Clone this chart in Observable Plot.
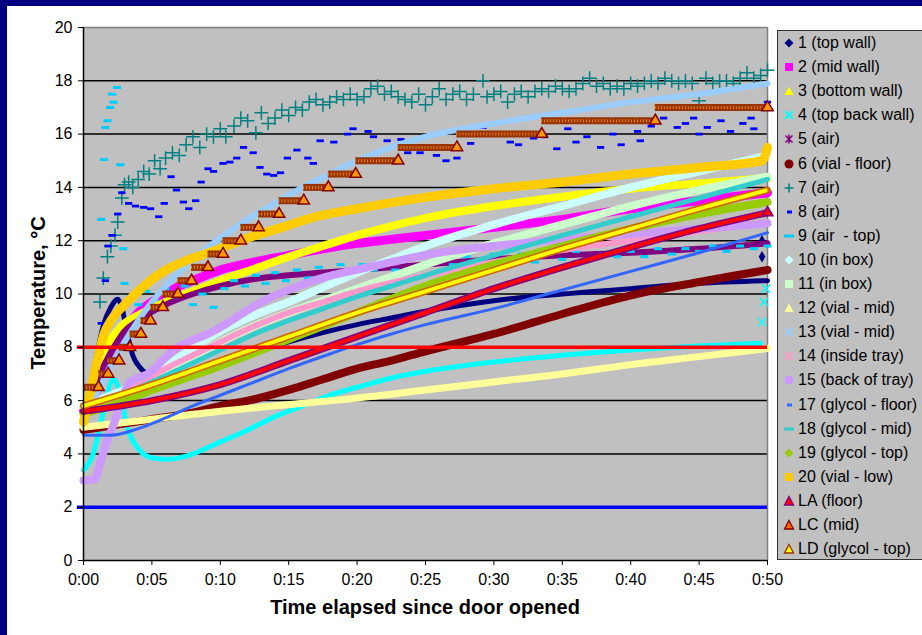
<!DOCTYPE html>
<html><head><meta charset="utf-8">
<script src="https://cdn.jsdelivr.net/npm/d3@7"></script>
<script src="https://cdn.jsdelivr.net/npm/@observablehq/plot@0.6"></script>
<style>
html,body{margin:0;padding:0;background:#fff;}
#wrap{position:relative;width:922px;height:635px;overflow:hidden;background:#fff;font-family:"Liberation Sans",Arial,sans-serif;}
.navy-top{position:absolute;left:0;top:0;width:922px;height:6px;background:#000080;}
.navy-left{position:absolute;left:0;top:0;width:7px;height:635px;background:#000080;}
#chart{position:absolute;left:0;top:0;}
#ytitle{position:absolute;left:38px;top:293px;transform:translate(-50%,-50%) rotate(-90deg);font-weight:bold;font-size:20px;white-space:nowrap;}
#xtitle{position:absolute;left:425px;top:607px;transform:translate(-50%,-50%);font-weight:bold;font-size:20px;white-space:nowrap;}
#legend{position:absolute;left:777px;top:30px;width:160px;height:530px;background:#C0C0C0;border:1px solid #333;box-sizing:border-box;}
.item{position:absolute;left:0;height:24px;display:flex;align-items:center;font-size:16px;white-space:pre;color:#000;}
.item svg{margin-left:4px;margin-right:2px;}
</style></head>
<body>
<div id="wrap">
  <div class="navy-top"></div>
  <div class="navy-left"></div>
  <div id="chart"></div>
  <div id="ytitle">Temperature, °C</div>
  <div id="xtitle">Time elapsed since door opened</div>
  <div id="legend"></div>
</div>
<script>
// ---- data: [minutes, °C] ----
const xTicks = [0,5,10,15,20,25,30,35,40,45,50];
const yTicks = [0,2,4,6,8,10,12,14,16,18,20];
const refLow = 2, refHigh = 8;

const s1 = [[0,5.7],[0.5,6.6],[1,7.8],[1.5,8.9],[2,9.5],[2.5,9.8],[2.8,9.5],[3.2,8.5],[3.6,7.7],[4.2,7.2],[5,6.9],[5.8,6.8],[7,6.9],[10,7.4],[12.5,7.8],[15,8.2],[17.5,8.55],[20,8.85],[22.5,9.1],[25,9.35],[30,9.75],[35,10.0],[40,10.2],[45,10.4],[50,10.5]];
const s1End = [[49.6,12.0],[49.6,11.4]];
const s2 = [[0,5.6],[0.5,6.0],[1,6.4],[1.5,7.2],[2,7.8],[2.5,8.3],[3,8.7],[4,9.3],[5,9.7],[6,10.0],[7,10.3],[8,10.5],[10,10.9],[12.5,11.2],[15,11.45],[17.5,11.7],[20,11.9],[22.5,12.05],[25,12.2],[30,12.5],[35,12.8],[40,13.2],[45,13.5],[50,13.8]];
const s3 = [[0,5.5],[0.5,6.4],[1,7.3],[1.5,7.9],[2,8.3],[3,8.9],[4,9.2],[6,9.7],[8,10.1],[10,10.5],[12.5,10.95],[15,11.4],[17.5,11.8],[20,12.2],[22.5,12.55],[25,12.85],[30,13.3],[35,13.65],[40,13.95],[45,14.15],[50,14.35]];
const s4 = [[0,3.4],[0.7,4.0],[1.2,5.0],[1.7,6.2],[2.2,6.8],[2.7,6.2],[3.2,5.0],[4,4.2],[5,3.85],[6,3.8],[7,3.85],[8,4.0],[10,4.45],[12,4.9],[14,5.4],[16,5.8],[18,6.2],[20,6.5],[22.5,6.85],[25,7.1],[30,7.45],[35,7.7],[40,7.9],[45,8.05],[49.5,8.15]];
const s4End = [[49.6,8.95],[49.75,9.7],[49.9,10.2]];
const s5 = [[0,5.5],[1,6.8],[2,7.8],[3,8.6],[4,9.0],[6,9.6],[8,10.0],[10,10.3],[13,10.6],[15,10.7],[20,10.9],[25,11.1],[30,11.3],[35,11.45],[40,11.55],[45,11.7],[50,11.9]];
const s6 = [[0,4.9],[2.5,5.1],[5,5.3],[7.5,5.5],[10,5.8],[12.5,6.05],[15,6.4],[17.5,6.8],[20,7.2],[22.5,7.5],[25,7.85],[30,8.5],[35,9.25],[40,9.95],[45,10.45],[50,10.9]];
const s7 = [[1.2,9.7],[1.45,10.6],[1.75,11.4],[2.0,11.8],[2.3,12.2],[2.5,12.7],[2.8,13.6],[3.0,14.1],[3.3,14.2],[3.6,14.0],[4.0,14.3],[4.4,14.6],[4.8,14.5],[5.2,15.0],[5.6,14.7],[6.0,15.1],[6.5,15.3],[7.0,15.2],[7.5,15.6],[8.0,15.9],[8.5,15.5],[9.0,16.0],[9.5,15.9],[10.0,16.2],[10.4,15.9],[11.0,16.3],[11.5,16.6],[12.0,16.5],[12.6,16.05],[13.0,16.8],[13.5,16.4],[14.0,16.6],[14.5,16.9],[15.0,16.7],[15.5,17.0],[16.0,16.9],[16.5,17.2],[17.0,17.3],[17.5,17.1],[18.0,17.2],[18.5,17.4],[19.0,17.3],[19.5,17.5],[20.0,17.3],[20.5,17.4],[21.0,17.7],[21.5,17.8],[22.0,17.5],[22.5,17.6],[23.0,17.4],[23.5,17.3],[24.0,17.2],[24.5,17.5],[25.0,17.1],[25.5,17.4],[26.0,17.7],[26.5,17.3],[27.0,17.5],[27.5,17.6],[28.0,17.3],[28.5,17.5],[29.2,18.0],[29.5,17.4],[30.0,17.5],[30.5,17.6],[31.0,17.2],[31.5,17.5],[32.0,17.6],[32.5,17.4],[33.0,17.6],[33.5,17.7],[34.0,17.6],[34.5,17.8],[35.0,17.7],[35.5,17.6],[36.0,17.7],[36.5,17.9],[37.0,18.1],[37.5,17.8],[38.0,17.9],[38.5,17.7],[39.0,17.8],[39.5,17.7],[40.0,17.9],[40.5,17.8],[41.0,17.9],[41.5,18.0],[42.0,17.9],[42.5,18.1],[43.0,18.0],[43.5,17.9],[44.0,18.0],[44.5,17.9],[45.0,17.25],[45.5,18.1],[46.0,17.9],[46.5,18.0],[47.0,18.0],[47.5,17.9],[48.0,18.1],[48.5,18.3],[49.0,18.1],[49.5,18.2],[50.0,18.4]];
const s8 = [[1.3,8.9],[1.6,10.5],[1.8,11.8],[2.1,12.2],[2.5,13.0],[2.8,13.8],[3.3,13.4],[3.8,13.3],[4.4,13.25],[4.9,13.2],[5.5,12.9],[5.9,13.4],[6.4,14.4],[6.8,13.9],[7.3,13.45],[7.7,13.2],[8.2,13.5],[8.6,14.2],[9.1,14.7],[9.5,14.6],[10.2,14.9],[10.7,14.95],[11.2,15.1],[11.7,15.5],[12.4,15.3],[12.9,14.75],[13.4,14.5],[13.9,14.45],[14.4,14.55],[14.9,15.1],[15.6,15.4],[16.4,15.1],[16.8,14.9],[17.3,15.75],[18.3,15.7],[19.3,16.0],[19.7,16.2],[20.8,16.1],[21.2,15.9],[22.2,15.75],[23.2,15.8],[23.7,15.3],[24.6,15.3],[25.8,15.2],[26.5,15.0],[27.3,15.1],[28.3,15.65],[29.2,16.25],[30.0,16.0],[31.2,15.7],[31.8,15.6],[32.9,15.85],[33.7,15.9],[34.6,15.45],[35.4,16.2],[36.0,15.7],[36.8,15.9],[37.8,15.5],[38.7,16.0],[39.3,15.6],[40.5,16.1],[40.7,15.75],[41.5,16.3],[42.4,16.6],[43.4,16.25],[44.0,16.4],[44.6,16.6],[45.0,16.0],[45.6,16.25],[46.6,16.5],[47.3,16.1],[48.2,16.4],[48.8,16.6],[49.0,16.2],[50.0,17.2]];
const s9 = [[0,5.8],[0.5,6.3],[1.0,7.6],[1.3,12.8],[1.5,15.05],[1.6,16.25],[1.75,16.5],[1.95,17.0],[2.1,17.5],[2.2,17.2],[2.45,17.75],[2.7,14.85],[2.9,11.7],[3.0,10.4],[3.4,9.9],[4.0,9.6],[4.6,10.1],[5.2,9.8],[6.0,10.2],[6.7,9.9],[7.4,10.3],[8.0,9.6],[8.7,10.0],[9.5,9.5],[10.3,10.2],[11.0,10.5],[11.8,10.3],[12.6,10.7],[13.3,10.4],[14.0,10.8],[14.8,10.5],[15.6,10.9],[16.4,10.6],[17.2,11.0],[18.0,10.7],[18.8,11.1],[19.6,10.8],[20.4,11.1],[21.2,10.9],[22.0,11.2],[22.8,10.9],[23.6,11.3],[24.4,11.0],[25.2,11.2],[26.0,11.4],[27.0,11.1],[28.0,11.4],[29.0,11.2],[30.0,11.5],[31.0,11.3],[32.0,11.5],[33.0,11.2],[34.0,11.5],[35.0,11.3],[36.0,11.6],[37.0,11.3],[38.0,11.5],[39.0,11.4],[40.0,11.6],[41.0,11.4],[42.0,11.7],[43.0,11.5],[44.0,11.7],[45.0,11.6],[46.0,11.8],[47.0,11.6],[48.0,11.8],[49.0,11.7],[50.0,11.8]];
const s10 = [[0,5.8],[2,6.2],[5,6.9],[7.5,7.8],[10,8.6],[12.5,9.2],[15,9.7],[17.5,10.25],[20,10.8],[22.5,11.3],[25,11.8],[30,12.6],[35,13.3],[40,14.0],[45,14.6],[50,15.2]];
const s11 = [[0,5.8],[2,6.0],[5,6.7],[7.5,7.5],[10,8.2],[12.5,8.8],[15,9.3],[17.5,9.75],[20,10.2],[22.5,10.65],[25,11.1],[30,11.9],[35,12.6],[40,13.3],[45,13.9],[50,14.4]];
const s12 = [[0,5.0],[5,5.3],[10,5.6],[15,5.85],[20,6.1],[25,6.4],[30,6.7],[35,7.0],[40,7.35],[45,7.65],[50,7.95]];
const s13 = [[0,5.3],[1,6.3],[2,7.3],[3,8.2],[4,9.0],[5,9.7],[6,10.3],[7,10.8],[8,11.3],[10,12.1],[12,12.8],[14,13.4],[16,14.0],[18,14.5],[20,15.0],[22.5,15.5],[25,15.9],[30,16.4],[35,16.8],[40,17.2],[45,17.5],[50,17.9]];
const s14 = [[0,5.6],[2,6.0],[4,6.6],[6,7.2],[8,7.7],[10,8.2],[12.5,8.8],[15,9.3],[17.5,9.7],[20,10.1],[25,10.7],[30,11.2],[35,11.65],[40,12.0],[45,12.35],[50,12.7]];
const s15 = [[0,3.0],[0.8,3.05],[1.3,3.8],[1.8,4.6],[2.2,5.1],[2.8,6.0],[3.4,6.7],[4.7,7.0],[6.6,7.9],[9.5,8.6],[13.2,9.75],[16.8,10.5],[21.7,11.1],[25.4,11.5],[30,11.8],[35,12.05],[40,12.25],[45,12.45],[50,12.65]];
const s17 = [[0,4.7],[2,4.7],[4,4.95],[6,5.35],[8,5.8],[10,6.2],[12,6.6],[15,7.2],[18,7.75],[20,8.1],[22.5,8.5],[25,8.85],[30,9.45],[35,10.15],[40,10.85],[45,11.55],[50,12.3]];
const s18 = [[0,5.8],[2,6.1],[5,6.7],[7.5,7.3],[10,7.9],[12.5,8.5],[15,9.0],[17.5,9.45],[20,9.9],[22.5,10.3],[25,10.7],[30,11.45],[35,12.2],[40,12.9],[45,13.6],[50,14.3]];
const s19 = [[0,5.5],[2.5,5.9],[5,6.4],[7.5,6.85],[10,7.3],[15,8.3],[20,9.3],[25,10.3],[30,11.1],[35,11.8],[40,12.45],[45,13.0],[50,13.45]];
const s20 = [[0,5.2],[0.5,6.3],[1,7.5],[1.5,8.5],[2,9.0],[3,9.6],[4,10.1],[5,10.55],[6,10.9],[7.5,11.25],[10,11.7],[12,12.1],[14.5,12.5],[17,12.9],[20,13.2],[24,13.55],[27.5,13.8],[30,13.95],[35,14.2],[40,14.5],[45,14.75],[49.6,15.0],[50,15.5]];
const sLA = [[0,5.6],[5,6.0],[10,6.6],[15,7.5],[20,8.4],[25,9.3],[30,10.2],[35,11.0],[40,11.75],[45,12.45],[50,13.05]];
const sLD = [[0,5.8],[5,6.6],[10,7.5],[15,8.4],[20,9.3],[25,10.1],[30,10.9],[35,11.7],[40,12.45],[45,13.2],[50,13.9]];
// LC: [start, end, value] plateaus
const sLC = [[0,1.1,6.5],[1.1,1.8,7.0],[1.8,2.6,7.5],[2.6,3.4,8.0],[3.4,4.2,8.5],[4.2,4.9,9.0],[4.9,5.8,9.5],[5.8,6.9,10.0],[6.9,7.9,10.5],[7.9,9.1,11.0],[9.1,10.2,11.5],[10.2,11.5,12.0],[11.5,12.8,12.5],[12.8,14.3,13.0],[14.3,16.1,13.5],[16.1,17.9,14.0],[17.9,19.9,14.5],[19.9,23.0,15.0],[23.0,27.3,15.5],[27.3,33.5,16.0],[33.5,41.8,16.5],[41.8,50,17.0]];

const legendLabels = ["1 (top wall)","2 (mid wall)","3 (bottom wall)","4 (top back wall)","5 (air)","6 (vial - floor)","7 (air)","8 (air)","9 (air  - top)","10 (in box)","11 (in box)","12 (vial - mid)","13 (vial - mid)","14 (inside tray)","15 (back of tray)","17 (glycol - floor)","18 (glycol - mid)","19 (glycol - top)","20 (vial - low)","LA (floor)","LC (mid)","LD (glycol - top)"];
const legendMarkers = ["diamond","square","triangle","x","star","circle","plus","dash","longdash","diamond","square","triangle","x","x","circle","dash","longdash","diamond","square","triangle","triangle","triangle"];
const legendFills = ["#000080","#FF00FF","#FFFF00","#00FFFF","#800080","#800000","#008080","#0000FF","#00CCFF","#CCFFFF","#CCFFCC","#FFFF99","#99CCFF","#FF99CC","#CC99FF","#3366FF","#33CCCC","#99CC00","#FFCC00","#FF0000","#FF6600","#FFFF00"];
const legendEdges = [null,null,null,null,null,null,null,null,null,null,null,null,null,null,null,null,null,null,null,"#800080","#800000","#993300"];

// ---- chart ----
const X = d => d[0], Y = d => d[1];
const band = (data, color, w) => Plot.line(data, {x: X, y: Y, stroke: color, strokeWidth: w, curve: "monotone-x", strokeLinecap: "round", strokeLinejoin: "round"});
const dashSym = {draw(ctx, size){ const r = Math.sqrt(size/Math.PI); ctx.moveTo(-r*1.3,-r*0.5); ctx.lineTo(r*1.3,-r*0.5); ctx.lineTo(r*1.3,r*0.5); ctx.lineTo(-r*1.3,r*0.5); ctx.closePath(); }};

const chart = Plot.plot({
  width: 780, height: 635,
  marginLeft: 83, marginRight: 13, marginTop: 27, marginBottom: 75,
  style: {background: "transparent", fontFamily: "'Liberation Sans', Arial, sans-serif", fontSize: "16px", color: "#000", overflow: "visible"},
  x: {domain: [0, 50]},
  y: {domain: [0, 20]},
  marks: [
    Plot.frame({fill: "#C0C0C0", stroke: "none"}),
    Plot.ruleY(yTicks.filter(v => v > 0 && v < 20), {stroke: "#000", strokeWidth: 1.5}),
    Plot.ruleY([20], {stroke: "#808080", strokeWidth: 1.5}),
    Plot.ruleX([50], {stroke: "#808080", strokeWidth: 1.5}),
    band(s1, "#000080", 5),
    Plot.dot(s1End, {x: X, y: Y, symbol: "diamond", fill: "#000080", r: 3.5}),
    band(s2, "#FF00FF", 9),
    band(s3, "#FFFF00", 8),
    band(s4, "#00FFFF", 5),
    Plot.dot(s4End, {x: X, y: Y, symbol: "times", stroke: "#00FFFF", fill: "none", strokeWidth: 1.5, r: 4}),
    band(s5, "#800080", 6),
    band(s6, "#800000", 8),
    Plot.dot(s7, {x: X, y: Y, symbol: "plus", stroke: "#008080", fill: "none", strokeWidth: 1.5, r: 4.5}),
    Plot.dot(s8, {x: X, y: Y, symbol: dashSym, fill: "#0000FF", stroke: "none", r: 2.8}),
    Plot.dot(s9, {x: X, y: Y, symbol: dashSym, fill: "#00CCFF", stroke: "none", r: 3.1}),
    band(s10, "#CCFFFF", 8),
    band(s11, "#CCFFCC", 8),
    band(s12, "#FFFF99", 7),
    band(s13, "#99CCFF", 6),
    band(s14, "#FF99CC", 6),
    band(s15, "#CC99FF", 8),
    band(s17, "#3366FF", 3),
    band(s18, "#33CCCC", 5),
    band(s19, "#99CC00", 8),
    band(s20, "#FFCC00", 9),
    band(sLA, "#800080", 7),
    Plot.line(sLA, {x: X, y: Y, stroke: "#FF0000", strokeWidth: 4, curve: "monotone-x", strokeDasharray: "1.2,1.8"}),
    Plot.dot(sLA.slice(-1), {x: X, y: Y, symbol: "triangle", fill: "#FF0000", stroke: "#800080", r: 4}),
    Plot.ruleY(sLC, {y: d => d[2], x1: d => d[0], x2: d => d[1], stroke: "#993300", strokeWidth: 7}),
    Plot.ruleY(sLC, {y: d => d[2], x1: d => d[0], x2: d => d[1], stroke: "#FF9900", strokeWidth: 3, strokeDasharray: "0.8,2.2"}),
    Plot.dot(sLC, {x: d => d[1], y: d => d[2], symbol: "triangle", fill: "#FF9900", stroke: "#800000", r: 4.2}),
    band(sLD, "#CC6600", 7),
    Plot.line(sLD, {x: X, y: Y, stroke: "#FFFF00", strokeWidth: 4, curve: "monotone-x", strokeDasharray: "1.5,2"}),
    Plot.ruleY([refHigh], {x1: -0.45, x2: 50, stroke: "#FF0000", strokeWidth: 3.5}),
    Plot.ruleY([refLow], {x1: -0.45, x2: 50, stroke: "#0000FF", strokeWidth: 3.5}),
    Plot.ruleX([0], {stroke: "#000", strokeWidth: 1.5}),
    Plot.ruleY([0], {stroke: "#000", strokeWidth: 1.5}),
    Plot.axisY({ticks: yTicks, tickSize: 5, tickPadding: 6, label: null, fontSize: 16}),
    Plot.axisX({ticks: xTicks, tickSize: 5, tickPadding: 8, label: null, fontSize: 16, tickFormat: d => `0:${String(d).padStart(2, "0")}`})
  ]
});
document.getElementById("chart").appendChild(chart);

// ---- legend ----
function markerSVG(type, fill, edge) {
  const s = edge || fill;
  let body = "";
  switch (type) {
    case "diamond": body = `<path d="M7,2.5 L11.5,7 L7,11.5 L2.5,7Z" fill="${fill}"/>`; break;
    case "square": body = `<rect x="3" y="3" width="8" height="8" fill="${fill}"/>`; break;
    case "triangle": body = `<path d="M7,2.5 L11.5,11 L2.5,11Z" fill="${fill}" stroke="${edge ? s : "none"}" stroke-width="1.3"/>`; break;
    case "x": body = `<path d="M3,3 L11,11 M11,3 L3,11" stroke="${fill}" stroke-width="1.8"/>`; break;
    case "star": body = `<path d="M3.5,3.5 L10.5,10.5 M10.5,3.5 L3.5,10.5 M7,2.5 L7,11.5" stroke="${fill}" stroke-width="1.6"/>`; break;
    case "circle": body = `<circle cx="7" cy="7" r="4.5" fill="${fill}"/>`; break;
    case "plus": body = `<path d="M7,2.5 L7,11.5 M2.5,7 L11.5,7" stroke="${fill}" stroke-width="1.6"/>`; break;
    case "dash": body = `<rect x="5" y="5.5" width="5" height="3" fill="${fill}"/>`; break;
    case "longdash": body = `<rect x="2" y="5.5" width="10" height="3" fill="${fill}"/>`; break;
  }
  return `<svg width="14" height="14" viewBox="0 0 14 14">${body}</svg>`;
}
const leg = document.getElementById("legend");
legendLabels.forEach((lab, i) => {
  const div = document.createElement("div");
  div.className = "item";
  div.style.top = (i * 24.1) + "px";
  div.innerHTML = markerSVG(legendMarkers[i], legendFills[i], legendEdges[i]) + `<span>${lab}</span>`;
  leg.appendChild(div);
});
</script>
</body></html>
